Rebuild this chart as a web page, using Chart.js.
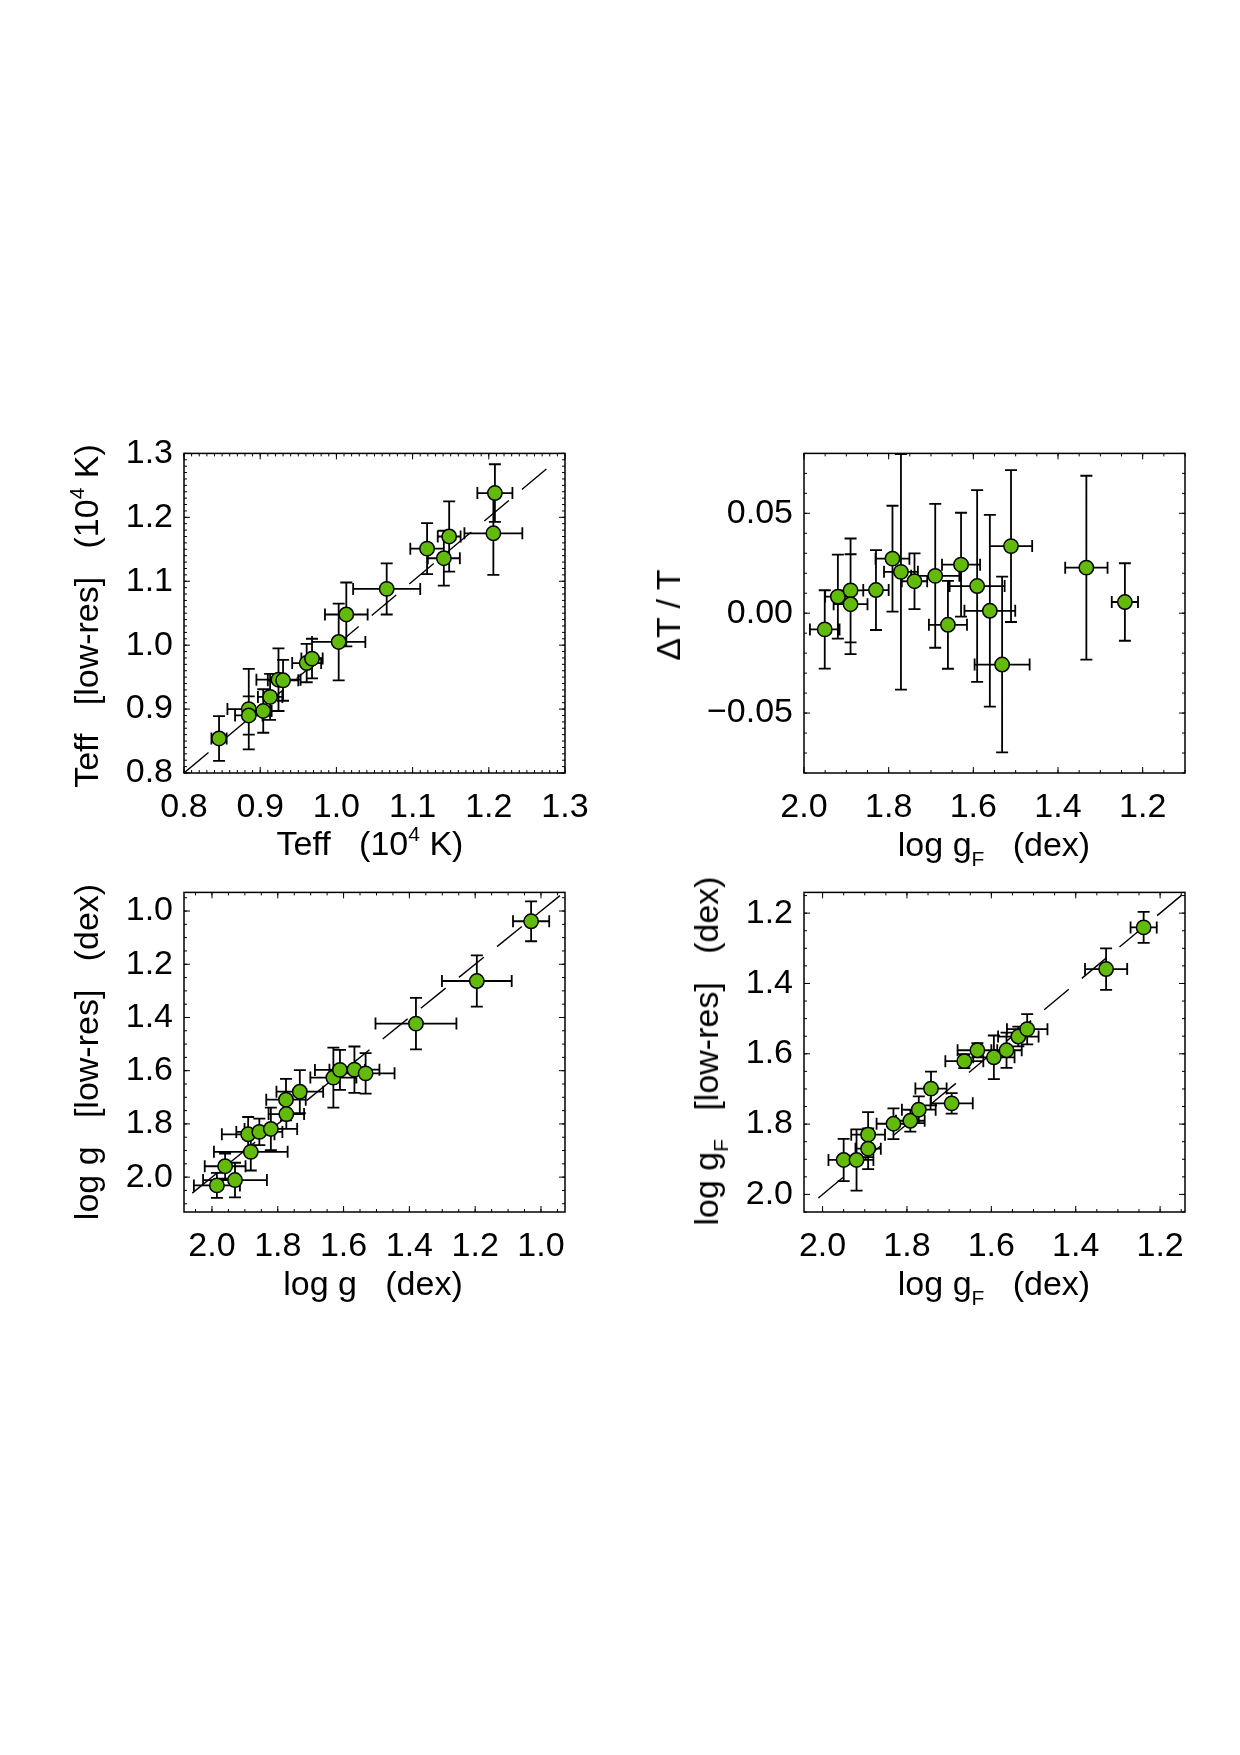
<!DOCTYPE html>
<html><head><meta charset="utf-8">
<script src="https://cdn.jsdelivr.net/npm/chart.js@4.4.1/dist/chart.umd.min.js"></script>
<style>
html,body{margin:0;padding:0;background:#fff}
body{position:relative;width:1240px;height:1755px;overflow:hidden}
.pane{position:absolute}
.pane canvas{display:block}
.t{position:absolute;font-family:"Liberation Sans",Arial,sans-serif;font-size:34px;line-height:34px;white-space:pre;color:#000;transform:translate(-50%,-50%)}
.t.r{transform:translate(-50%,-50%) rotate(-90deg)}
.t sup,.t sub{font-size:21px;line-height:0;position:relative;vertical-align:baseline}
.t sup{top:-14px}
.t sub{top:10px}
</style></head><body>
<div class="pane" id="p1" style="left:34px;top:422px"><canvas id="c1" width="571" height="421"></canvas></div>
<div class="pane" id="p2" style="left:654px;top:422px"><canvas id="c2" width="571" height="421"></canvas></div>
<div class="pane" id="p3" style="left:34px;top:861px"><canvas id="c3" width="571" height="421"></canvas></div>
<div class="pane" id="p4" style="left:654px;top:861px"><canvas id="c4" width="571" height="421"></canvas></div>

<div class="t" style="left:370px;top:843px">Teff   (10<sup>4</sup> K)</div>
<div class="t r" style="left:86px;top:616px">Teff   [low-res]   (10<sup>4</sup> K)</div>
<div class="t" style="left:994px;top:844px">log g<sub>F</sub>   (dex)</div>
<div class="t r" style="left:668px;top:615px">ΔT / T</div>
<div class="t" style="left:373px;top:1283px">log g   (dex)</div>
<div class="t r" style="left:86px;top:1052px">log g   [low-res]   (dex)</div>
<div class="t" style="left:994px;top:1283px">log g<sub>F</sub>   (dex)</div>
<div class="t r" style="left:706px;top:1051px">log g<sub>F</sub>   [low-res]   (dex)</div>

<script>
// ---------- data ----------
// Panel 1: Teff (10^4 K) vs Teff [low-res]
const TEFF = [0.846, 0.885, 0.885, 0.904, 0.913, 0.924, 0.930, 0.961, 0.968, 1.003, 1.013, 1.066, 1.119, 1.141, 1.148, 1.206, 1.208];
const TEFF_LOWRES = [0.854, 0.900, 0.890, 0.897, 0.919, 0.946, 0.945, 0.972, 0.979, 1.005, 1.048, 1.088, 1.151, 1.136, 1.170, 1.175, 1.238];
const TEFF_ERR = [0.010, 0.028, 0.018, 0.011, 0.016, 0.029, 0.020, 0.019, 0.014, 0.035, 0.028, 0.044, 0.022, 0.021, 0.015, 0.038, 0.023];
const TEFF_LOWRES_ERR = [0.035, 0.063, 0.030, 0.034, 0.036, 0.049, 0.032, 0.030, 0.031, 0.060, 0.050, 0.040, 0.040, 0.043, 0.055, 0.065, 0.045];
const TEFF_ONE2ONE = [0.8, 1.28];
const TEFF_TICKS = [0.8, 0.9, 1.0, 1.1, 1.2, 1.3];

// Panel 2: log gF vs dT/T
const LOGGF_A = [1.951, 1.920, 1.890, 1.890, 1.830, 1.791, 1.771, 1.739, 1.690, 1.660, 1.629, 1.591, 1.561, 1.532, 1.511, 1.333, 1.242];
const DT_T = [-0.0081, 0.0083, 0.0114, 0.0045, 0.0116, 0.0273, 0.0207, 0.0160, 0.0187, -0.0058, 0.0243, 0.0136, 0.0012, -0.0257, 0.0336, 0.0228, 0.0056];
const LOGGF_A_ERR = [0.035, 0.030, 0.030, 0.040, 0.030, 0.040, 0.040, 0.030, 0.057, 0.045, 0.045, 0.065, 0.060, 0.065, 0.050, 0.050, 0.031];
const DT_T_ERR = [0.0196, 0.021, 0.026, 0.025, 0.020, 0.0265, 0.059, 0.014, 0.036, 0.022, 0.026, 0.048, 0.048, 0.044, 0.038, 0.046, 0.0194];
const LOGGF_TICKS = [2.0, 1.8, 1.6, 1.4, 1.2];
const DT_TICKS = [-0.05, 0.00, 0.05];

// Panel 3: log g vs log g [low-res]
const LOGG = [1.985, 1.960, 1.930, 1.890, 1.882, 1.856, 1.821, 1.775, 1.774, 1.733, 1.631, 1.611, 1.567, 1.533, 1.380, 1.195, 1.030];
const LOGG_LOWRES = [2.031, 1.959, 2.011, 1.839, 1.905, 1.830, 1.819, 1.709, 1.763, 1.679, 1.626, 1.597, 1.596, 1.610, 1.423, 1.263, 1.0385];
const LOGG_ERR = [0.070, 0.062, 0.097, 0.080, 0.112, 0.070, 0.080, 0.060, 0.054, 0.071, 0.070, 0.076, 0.076, 0.088, 0.123, 0.106, 0.055];
const LOGG_LOWRES_ERR = [0.047, 0.047, 0.065, 0.065, 0.070, 0.050, 0.080, 0.078, 0.056, 0.081, 0.113, 0.075, 0.087, 0.076, 0.097, 0.096, 0.075];
const LOGG_ONE2ONE = [2.06, 0.93];
const LOGG_TICKS = [2.0, 1.8, 1.6, 1.4, 1.2, 1.0];

// Panel 4: log gF vs log gF [low-res]
const LOGGF_B = [1.950, 1.9195, 1.892, 1.892, 1.832, 1.792, 1.772, 1.743, 1.694, 1.664, 1.633, 1.594, 1.564, 1.536, 1.515, 1.328, 1.239];
const LOGGF_LOWRES = [1.902, 1.902, 1.830, 1.870, 1.799, 1.7905, 1.759, 1.699, 1.741, 1.621, 1.590, 1.610, 1.590, 1.551, 1.530, 1.359, 1.2405];
const LOGGF_B_ERR = [0.036, 0.040, 0.040, 0.030, 0.040, 0.034, 0.040, 0.037, 0.050, 0.045, 0.047, 0.049, 0.036, 0.048, 0.048, 0.050, 0.031];
const LOGGF_LOWRES_ERR = [0.060, 0.087, 0.064, 0.058, 0.044, 0.031, 0.038, 0.048, 0.029, 0.020, 0.020, 0.062, 0.050, 0.028, 0.043, 0.059, 0.044];
const LOGGF_ONE2ONE = [2.01, 1.141];
const LOGGF_Y_TICKS = [2.0, 1.8, 1.6, 1.4, 1.2];

// ---------- plugins ----------
const framePlugin = {
  id: 'frame',
  afterDatasetsDraw(chart, args, opts) {
    const { ctx, chartArea: a, scales: { x, y } } = chart;
    const MAJ = 6, MIN = 3;
    ctx.save();
    ctx.strokeStyle = '#000';
    ctx.lineWidth = 1.5;
    ctx.strokeRect(a.left, a.top, a.right - a.left, a.bottom - a.top);
    ctx.lineWidth = 1;
    ctx.beginPath();
    const tx = (v, len) => { const p = x.getPixelForValue(v); ctx.moveTo(p, a.bottom); ctx.lineTo(p, a.bottom - len); ctx.moveTo(p, a.top); ctx.lineTo(p, a.top + len); };
    const ty = (v, len) => { const p = y.getPixelForValue(v); ctx.moveTo(a.left, p); ctx.lineTo(a.left + len, p); ctx.moveTo(a.right, p); ctx.lineTo(a.right - len, p); };
    x.ticks.forEach(t => tx(t.value, MAJ));
    y.ticks.forEach(t => ty(t.value, MAJ));
    const minor = (sc, step, fn) => {
      const k0 = Math.ceil(sc.min / step - 1e-6), k1 = Math.floor(sc.max / step + 1e-6);
      for (let k = k0; k <= k1; k++) fn(k * step, MIN);
    };
    minor(x, opts.xMinor, tx);
    minor(y, opts.yMinor, ty);
    ctx.stroke();
    ctx.restore();
  }
};

const errPlugin = {
  id: 'errbars',
  beforeDatasetsDraw(chart) {
    const { ctx, scales: { x, y } } = chart;
    const CAP = 6;
    chart.data.datasets.forEach(ds => {
      if (!ds.xErr) return;
      ctx.save();
      ctx.strokeStyle = '#000';
      ctx.lineWidth = 1.8;
      ctx.beginPath();
      ds.data.forEach((p, i) => {
        const px = x.getPixelForValue(p.x), py = y.getPixelForValue(p.y);
        const x0 = x.getPixelForValue(p.x - ds.xErr[i]), x1 = x.getPixelForValue(p.x + ds.xErr[i]);
        const y0 = y.getPixelForValue(p.y - ds.yErr[i]), y1 = y.getPixelForValue(p.y + ds.yErr[i]);
        ctx.moveTo(x0, py); ctx.lineTo(x1, py);
        ctx.moveTo(x0, py - CAP); ctx.lineTo(x0, py + CAP);
        ctx.moveTo(x1, py - CAP); ctx.lineTo(x1, py + CAP);
        ctx.moveTo(px, y0); ctx.lineTo(px, y1);
        ctx.moveTo(px - CAP, y0); ctx.lineTo(px + CAP, y0);
        ctx.moveTo(px - CAP, y1); ctx.lineTo(px + CAP, y1);
      });
      ctx.stroke();
      ctx.restore();
    });
  }
};

const GREEN = '#62bb0a';
const FONT = { family: '"Liberation Sans", Arial, sans-serif', size: 34 };

function axis(min, max, reverse, ticks, dec, isX) {
  return {
    type: 'linear', min, max, reverse,
    grid: { display: false, drawTicks: false },
    border: { display: false },
    ticks: {
      font: FONT, color: '#000', padding: isX ? 14 : 11, autoSkip: false, maxRotation: 0, minRotation: 0,
      callback: v => (v < 0 ? '\u2212' : '') + Math.abs(v).toFixed(dec)
    },
    afterBuildTicks: s => { s.ticks = ticks.map(v => ({ value: v })); },
    afterFit: s => { if (isX) s.height = 70; else s.width = 150; }
  };
}

function panel(id, xs, ys, xe, ye, line, xr, yr, xt, yt, xd, yd, xMinor, yMinor) {
  const datasets = [{
    type: 'scatter',
    data: xs.map((v, i) => ({ x: v, y: ys[i] })),
    xErr: xe, yErr: ye,
    pointRadius: 7.2, pointHoverRadius: 7.2,
    pointBackgroundColor: GREEN, pointBorderColor: '#000', pointBorderWidth: 1.5,
    order: 0
  }];
  if (line) datasets.push({
    type: 'line',
    data: [{ x: line[0], y: line[0] }, { x: line[1], y: line[1] }],
    borderColor: '#000', borderWidth: 1.4, borderDash: [32, 17],
    pointRadius: 0, fill: false, showLine: true, order: 1
  });
  new Chart(document.getElementById(id), {
    type: 'scatter',
    data: { datasets },
    options: {
      responsive: false, animation: false, devicePixelRatio: 1,
      layout: { padding: { top: 30, right: 40, left: 0, bottom: 0 } },
      plugins: { legend: { display: false }, tooltip: { enabled: false }, frame: { xMinor, yMinor } },
      scales: {
        x: axis(xr[0], xr[1], xr[2], xt, xd, true),
        y: axis(yr[0], yr[1], yr[2], yt, yd, false)
      }
    },
    plugins: [errPlugin, framePlugin]
  });
}

panel('c1', TEFF, TEFF_LOWRES, TEFF_ERR, TEFF_LOWRES_ERR, TEFF_ONE2ONE,
  [0.8, 1.3, false], [0.8, 1.3, false], TEFF_TICKS, TEFF_TICKS, 1, 1, 0.01, 0.01);
panel('c2', LOGGF_A, DT_T, LOGGF_A_ERR, DT_T_ERR, null,
  [1.1, 2.0, true], [-0.08, 0.08, false], LOGGF_TICKS, DT_TICKS, 1, 2, 0.05, 0.01);
panel('c3', LOGG, LOGG_LOWRES, LOGG_ERR, LOGG_LOWRES_ERR, LOGG_ONE2ONE,
  [0.927, 2.085, true], [0.930, 2.131, true], LOGG_TICKS, LOGG_TICKS, 1, 1, 0.05, 0.05);
panel('c4', LOGGF_B, LOGGF_LOWRES, LOGGF_B_ERR, LOGGF_LOWRES_ERR, LOGGF_ONE2ONE,
  [1.141, 2.044, true], [1.141, 2.050, true], LOGGF_TICKS, LOGGF_Y_TICKS, 1, 1, 0.05, 0.05);
</script>
</body></html>
